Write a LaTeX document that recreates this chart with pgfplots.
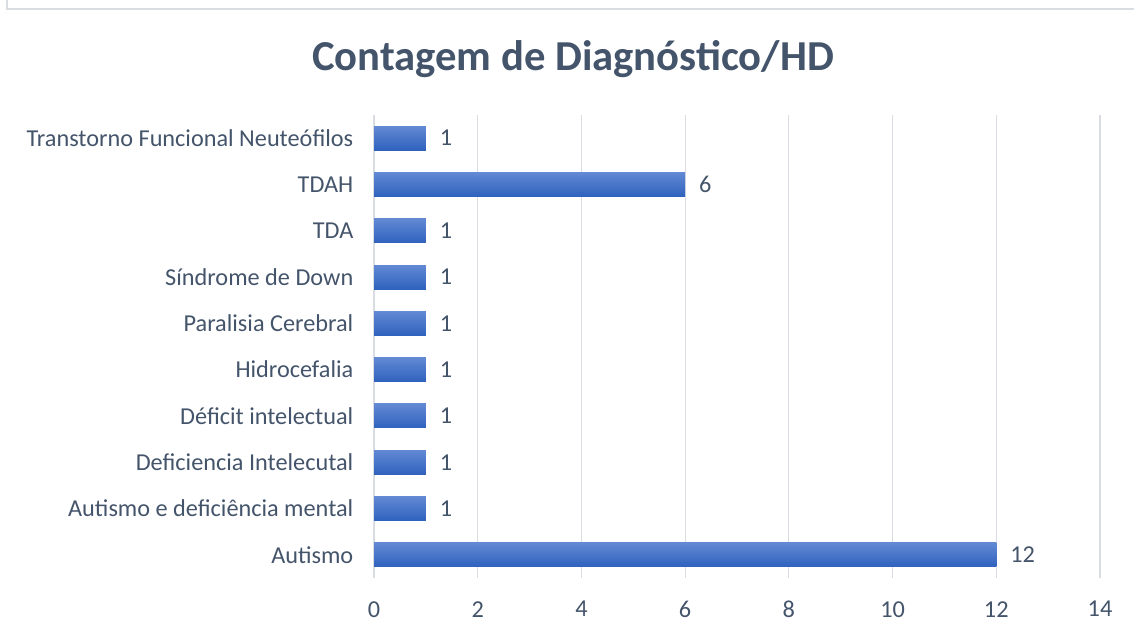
\documentclass[border=0pt]{standalone}
\usepackage{pgfplots}
\pgfplotsset{compat=1.18}
\usepackage{fontspec}
\setmainfont{Carlito}
\definecolor{txt}{HTML}{44546A}
\definecolor{gridc}{HTML}{D9DDE3}
\definecolor{bartop}{HTML}{6289D3}
\definecolor{barbot}{HTML}{2F62BE}
\definecolor{framec}{HTML}{D9DDE3}
\begin{document}
\begin{tikzpicture}[x=0.75pt,y=0.75pt]
\path[use as bounding box] (0,0) rectangle (1134,635);
\draw[framec, line width=0.9pt] (7,635) -- (7,626) -- (1134,626);
\node[txt, font=\bfseries\fontsize{32}{38}\selectfont, anchor=base] at (573,564) {Contagem de Diagnóstico/HD};
\begin{axis}[
  at={(280.5pt,42.75pt)}, anchor=south west,
  scale only axis, width=544.5pt, height=347.25pt,
  xmin=0, xmax=14, ymin=-0.5, ymax=9.5,
  xtick={0,2,...,14},
  ytick={0,...,9},
  yticklabels={Autismo,Autismo e deficiência mental,Deficiencia Intelecutal,Déficit intelectual,Hidrocefalia,Paralisia Cerebral,Síndrome de Down,TDA,TDAH,Transtorno Funcional Neuteófilos},
  axis line style={draw=none},
  major tick length=0pt,
  xmajorgrids, ymajorgrids=false, grid style={gridc, line width=0.9pt},
  ticklabel style={txt, font=\fontsize{18.2}{21}\selectfont},
  /pgf/number format/assume math mode=true,
  xticklabel style={yshift=-14pt},
  yticklabel style={xshift=-12pt},
  clip=false,
  no markers,
  every axis plot/.append style={xbar, bar width=18pt, bar shift=0pt, draw=none, mark=none, top color=bartop, bottom color=barbot,
    nodes near coords, point meta=x,
    nodes near coords style={txt, font=\fontsize{18.2}{21}\selectfont, anchor=west, xshift=7pt}},
]
\addplot coordinates {(12,0)};
\addplot coordinates {(1,1)};
\addplot coordinates {(1,2)};
\addplot coordinates {(1,3)};
\addplot coordinates {(1,4)};
\addplot coordinates {(1,5)};
\addplot coordinates {(1,6)};
\addplot coordinates {(1,7)};
\addplot coordinates {(6,8)};
\addplot coordinates {(1,9)};
\end{axis}
\end{tikzpicture}
\end{document}
